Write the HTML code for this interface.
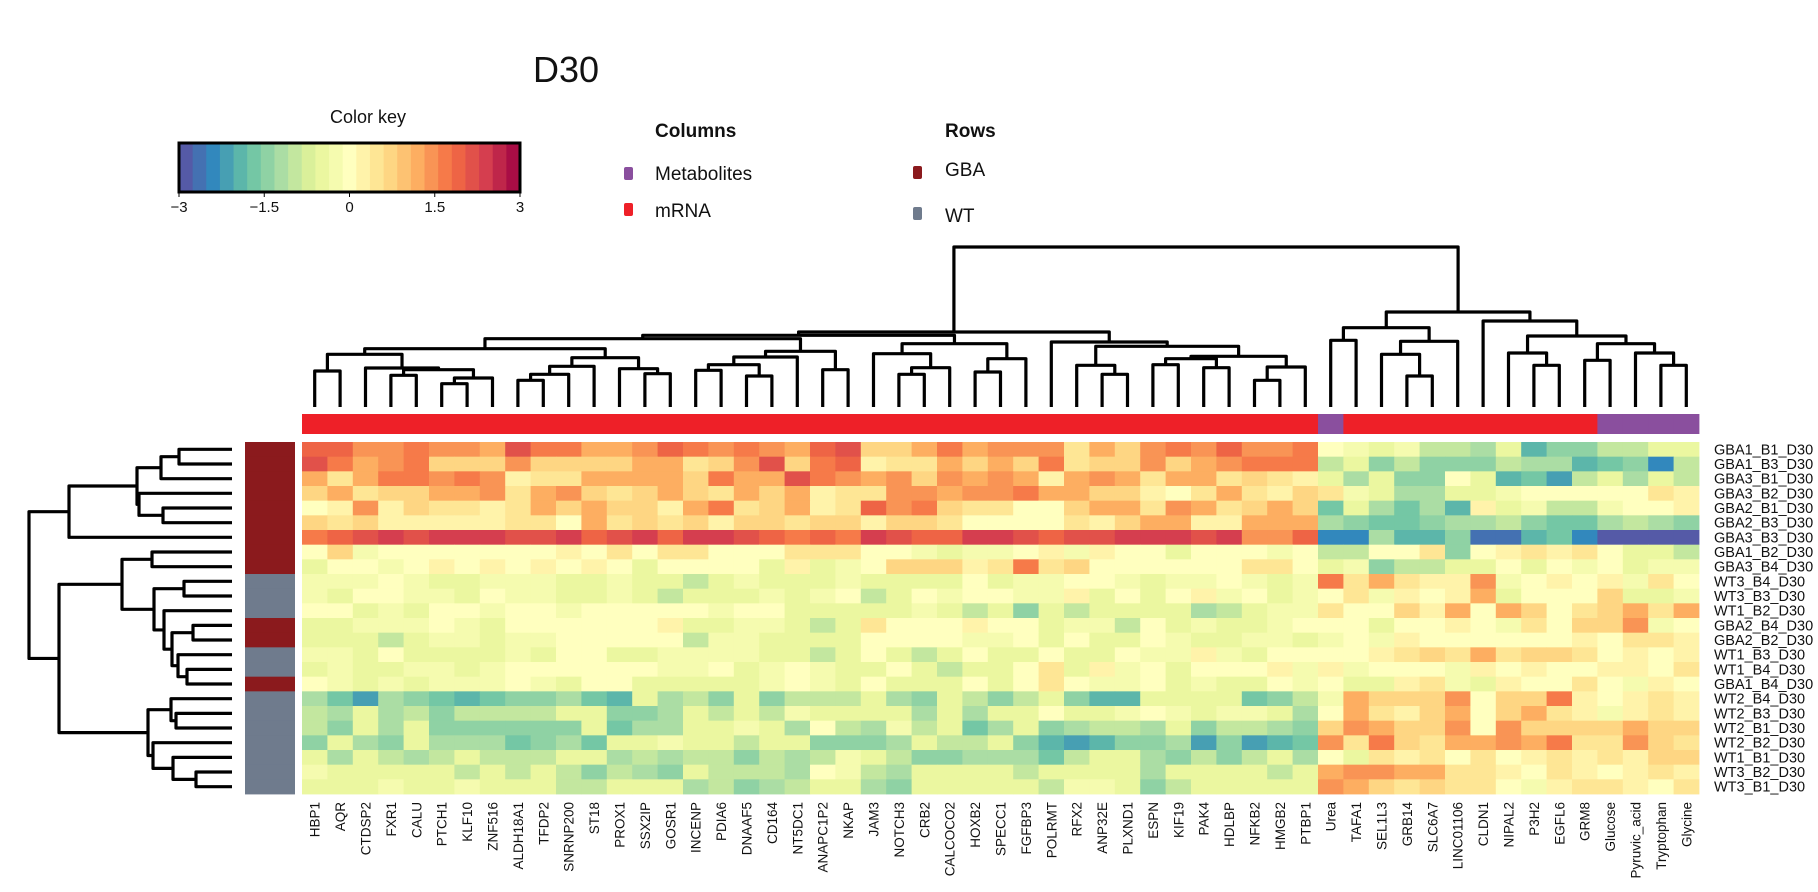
<!DOCTYPE html>
<html><head><meta charset="utf-8"><title>D30 heatmap</title>
<style>
html,body{margin:0;padding:0;background:#fff;}
svg{display:block;font-family:"Liberation Sans",Arial,sans-serif;}
</style></head>
<body>
<svg id="chart" width="1818" height="892" viewBox="0 0 1818 892" xmlns="http://www.w3.org/2000/svg">
<text x="566" y="82" font-size="36" text-anchor="middle" fill="#111">D30</text>
<text x="368" y="123" font-size="18" text-anchor="middle" fill="#111">Color key</text>
<g id="key"></g>
<text x="655" y="137" font-size="19" font-weight="bold" fill="#111">Columns</text>
<rect x="624" y="167" width="9" height="13" rx="2" fill="#8A4F9E"/>
<text x="655" y="180" font-size="19" fill="#111">Metabolites</text>
<rect x="624" y="203" width="9" height="13" rx="2" fill="#EE2028"/>
<text x="655" y="217" font-size="19" fill="#111">mRNA</text>
<text x="945" y="137" font-size="19" font-weight="bold" fill="#111">Rows</text>
<rect x="913" y="166" width="9" height="13" rx="2" fill="#8B1A1D"/>
<text x="945" y="176" font-size="19" fill="#111">GBA</text>
<rect x="913" y="207" width="9" height="13" rx="2" fill="#6F7B8D"/>
<text x="945" y="222" font-size="19" fill="#111">WT</text>
<g id="cells"></g>
<g id="annot"></g>
<g id="dend"></g>
<g id="labels"></g>
</svg>
<script>
const colLabels=["HBP1","AQR","CTDSP2","FXR1","CALU","PTCH1","KLF10","ZNF516","ALDH18A1","TFDP2","SNRNP200","ST18","PROX1","SSX2IP","GOSR1","INCENP","PDIA6","DNAAF5","CD164","NT5DC1","ANAPC1P2","NKAP","JAM3","NOTCH3","CRB2","CALCOCO2","HOXB2","SPECC1","FGFBP3","POLRMT","RFX2","ANP32E","PLXND1","ESPN","KIF19","PAK4","HDLBP","NFKB2","HMGB2","PTBP1","Urea","TAFA1","SEL1L3","GRB14","SLC6A7","LINC01106","CLDN1","NIPAL2","P3H2","EGFL6","GRM8","Glucose","Pyruvic_acid","Tryptophan","Glycine"];
const colTypes=["m","m","m","m","m","m","m","m","m","m","m","m","m","m","m","m","m","m","m","m","m","m","m","m","m","m","m","m","m","m","m","m","m","m","m","m","m","m","m","m","x","m","m","m","m","m","m","m","m","m","m","x","x","x","x"];
const rowLabels=["GBA1_B1_D30","GBA1_B3_D30","GBA3_B1_D30","GBA3_B2_D30","GBA2_B1_D30","GBA2_B3_D30","GBA3_B3_D30","GBA1_B2_D30","GBA3_B4_D30","WT3_B4_D30","WT3_B3_D30","WT1_B2_D30","GBA2_B4_D30","GBA2_B2_D30","WT1_B3_D30","WT1_B4_D30","GBA1_B4_D30","WT2_B4_D30","WT2_B3_D30","WT2_B1_D30","WT2_B2_D30","WT1_B1_D30","WT3_B2_D30","WT3_B1_D30"];
const rowGroups=["GBA","GBA","GBA","GBA","GBA","GBA","GBA","GBA","GBA","WT","WT","WT","GBA","GBA","WT","WT","GBA","WT","WT","WT","WT","WT","WT","WT"];
const keyTicks=[-3,-1.5,0,1.5,3];
const values=[
[1.9,1.9,1.4,1.4,1.7,1.4,1.4,1.1,2.2,1.7,1.7,1.1,1.1,1.4,1.9,1.7,1.4,1.7,1.4,1.1,1.9,2.2,0.8,0.8,1.1,1.7,1.1,1.4,1.4,1.4,0.55,1.1,0.8,1.4,1.7,1.4,1.9,1.4,1.4,1.7,0,-0.2,-0.4,-0.2,-0.85,-0.85,-1.1,-0.4,-1.9,-1.35,-1.35,-0.85,-0.85,-0.4,-0.6],
[2.2,1.7,1.1,1.4,1.7,0.8,0.8,0.8,1.4,0.8,0.8,0.8,0.8,1.1,1.1,0.55,0.8,1.4,2.2,0.8,1.7,1.9,0.3,0.55,0.55,1.1,0.8,1.1,0.8,1.7,0.55,0.8,0.8,1.4,0.8,1.1,1.4,1.7,1.7,1.7,-0.85,-0.4,-1.35,-0.85,-1.35,-1.35,-1.35,-0.85,-1.1,-1.1,-1.9,-1.6,-1.35,-2.3,-0.85],
[1.1,0.55,1.1,1.7,1.7,1.4,1.7,1.4,0.3,0.55,0.55,1.1,1.1,1.1,1.1,0.8,1.7,1.1,1.1,2.2,1.7,1.4,1.1,1.4,0.8,1.4,1.1,1.4,1.1,0.3,1.1,1.4,1.1,0.55,1.1,1.1,0.55,0.8,0.55,0.3,-0.4,-1.1,-0.4,-1.35,-1.35,0,-0.4,-1.9,-1.6,-2.1,-0.85,-0.6,-1.1,-0.4,-0.85],
[0.8,1.1,0.55,0.8,0.8,1.1,1.1,1.4,0.55,1.1,1.4,0.8,0.55,0.8,1.1,0.8,0.55,1.1,0.8,1.1,0.3,0.55,0.55,1.4,1.4,1.1,1.4,1.4,1.7,1.1,1.1,0.8,0.8,0.3,0.1,0.55,1.1,0.55,0.3,0.8,0.55,-0.2,-0.4,-1.1,-1.1,-0.6,-0.4,-0.2,0,0.1,0,0.1,0,0.55,0.3],
[0,0.3,1.4,0.3,0.8,0.55,0.55,0.3,0.55,1.1,0.8,1.1,0.8,0.8,0.3,1.1,1.7,0.55,0.8,1.1,0.3,0.55,1.9,1.4,1.7,0.8,0.55,0.55,0,0,0.8,1.1,1.1,0.55,1.4,1.1,0.55,0.8,1.1,0.8,-1.6,-0.4,-1.1,-1.6,-1.1,-1.9,0.3,-0.6,-0.2,-0.85,-0.85,-0.2,0.1,0.1,0.3],
[0.8,0.55,0.8,0.3,0.3,0.3,0.3,0.3,0.55,0.55,0.1,1.1,0.55,0.8,0.55,0.8,0.3,0.8,0.8,0.55,0.8,0.8,0.3,0.8,0.8,0.55,0.1,0,0,0.1,0.55,0.3,0.8,1.1,1.1,0.3,0.3,1.1,1.1,1.1,-1.1,-1.35,-1.6,-1.6,-1.35,-1.1,-1.1,-0.85,-1.35,-1.6,-1.6,-1.1,-0.85,-1.1,-1.35],
[1.7,1.9,2.2,2.5,2.2,2.5,2.5,2.5,2.2,2.2,2.5,1.9,2.2,2.5,1.9,2.5,2.5,2.2,1.9,1.7,1.9,1.7,2.5,2.2,1.9,1.9,2.5,2.5,2.2,1.9,2.2,2.2,2.5,2.5,2.5,2.2,2.5,1.4,1.4,1.9,-2.3,-2.3,-1.1,-1.9,-1.9,-1.35,-2.6,-2.6,-1.9,-1.6,-2.3,-3,-3,-3,-3],
[0.1,0.8,-0.2,0,0.1,0.1,0.1,0.1,0.1,0,0.3,0.1,0.55,0,0.55,0.55,0.1,0,0.1,0.55,0.55,0.55,0,0,-0.2,-0.6,-0.2,-0.2,0,0.3,-0.2,0.3,0.1,0,-0.4,0,0,0,-0.2,0,-0.85,-0.85,0.1,0.1,0.55,-1.35,0.1,0.3,0.55,0.3,0.55,0,-0.4,-0.6,-0.85],
[-0.4,0,0.1,-0.2,0,0.3,0,0.3,0.1,0.3,0.1,0.3,0,-0.4,0,0,0,0,-0.6,0.3,-0.4,-0.2,0.1,0.8,0.8,0.8,0.3,0.55,1.7,0.55,0.8,0.1,0,0.1,0.1,0,0.1,0.55,0.55,0.1,-0.6,-0.2,-1.35,-0.85,-0.85,-0.4,-0.4,0,-0.6,0,-0.2,0.1,-0.6,-0.2,-0.2],
[-0.2,-0.2,-0.2,0.1,-0.2,-0.4,-0.4,-0.2,-0.2,-0.2,-0.6,-0.4,-0.2,-0.6,-0.4,-0.85,-0.4,-0.2,-0.4,-0.6,-0.6,-0.2,-0.4,-0.6,-0.4,-0.6,0,-0.4,-0.2,-0.2,0,0,-0.2,-0.6,-0.2,-0.2,0.1,-0.2,-0.4,-0.2,1.7,0.55,1.1,0.55,0.3,0.3,1.4,-0.2,0,0.3,0.1,0.3,-0.2,0.55,0.1],
[-0.2,-0.6,0,0,-0.2,-0.2,-0.4,0.1,-0.2,-0.2,-0.6,-0.6,-0.2,-0.6,-0.85,-0.4,-0.4,-0.4,-0.2,-0.6,-0.2,0,-0.85,-0.4,0,-0.2,0,0.1,-0.2,-0.2,0.3,-0.4,0.1,-0.4,0,0.3,-0.2,0,-0.4,-0.2,0.1,0.55,-0.2,0.3,0.1,0.3,1.1,-0.4,0,0,0.1,0.8,-0.6,-0.4,-0.2],
[0.1,0.1,-0.4,-0.2,-0.6,0.1,0,-0.2,0,0,-0.2,0,0.1,0.1,0.1,0,-0.2,0.1,0.1,-0.4,-0.6,-0.6,-0.6,-0.6,-0.2,-0.4,-0.85,-0.4,-1.35,-0.4,-0.85,-0.4,-0.4,-0.6,-0.4,-1.1,-0.85,-0.4,-0.2,-0.2,0.55,0,0.1,0.8,0.3,1.1,0,1.1,0.8,0,0.55,0.8,1.1,0.55,1.1],
[-0.4,-0.4,-0.2,-0.2,-0.2,0,-0.2,-0.4,0,0.1,0,0.1,0.1,0,0.3,-0.4,-0.4,-0.2,-0.2,-0.6,-0.85,-0.6,0.55,0.1,0.1,0.1,0.3,0,0.1,-0.4,-0.2,-0.2,-0.85,0,-0.4,-0.2,-0.4,-0.4,-0.2,0,0,0.1,-0.4,0.1,0.1,0.3,0.1,-0.2,0.55,0.1,0.8,0.8,1.4,-0.2,0],
[-0.6,-0.4,-0.4,-0.85,-0.6,-0.2,-0.2,-0.4,-0.2,-0.2,0,0,0,0.1,0,-0.85,-0.2,-0.2,-0.4,-0.4,-0.4,-0.6,0,0,0.1,0,-0.2,-0.2,0,-0.6,0,-0.4,-0.4,0.1,-0.2,-0.4,-0.6,-0.2,-0.2,-0.4,-0.2,0,-0.2,0.3,0,0,0,0,0,0,0.3,0.1,0.55,0.55,0.3],
[-0.2,-0.2,-0.4,0,-0.6,-0.4,-0.4,-0.4,-0.2,-0.4,0.1,0,-0.4,-0.4,-0.2,-0.2,-0.2,-0.2,-0.4,-0.4,-0.85,-0.4,0.1,-0.4,-0.85,-0.4,0,-0.6,-0.4,0,-0.4,-0.4,0,-0.2,-0.2,0.3,-0.2,-0.4,0,0.1,0,0,0.3,0.55,0.8,0.55,1.1,0.55,0.8,0.8,0.55,0.1,0.3,0,0.3],
[-0.6,-0.2,-0.6,-0.4,-0.2,-0.2,-0.4,-0.2,0.1,0,0.1,0.1,0,0,-0.2,-0.2,0,-0.6,-0.2,0,-0.2,-0.4,-0.4,0,-0.4,-0.85,-0.6,-0.6,0,0.55,-0.4,0.3,-0.2,0.1,-0.4,0.1,0,0.1,0.3,-0.2,0.3,-0.2,0,0.1,0.1,-0.2,0.3,0.1,0.3,0.1,0.1,0.3,0.3,0.1,0.55],
[0.1,-0.2,-0.6,-0.2,-0.4,-0.2,-0.2,-0.2,0,-0.2,-0.4,0,0,-0.4,-0.4,-0.6,-0.6,-0.6,-0.2,0.1,-0.2,-0.6,0,-0.4,-0.6,-0.6,0,-0.6,0,0.55,0.1,-0.2,-0.2,0.1,-0.6,-0.2,-0.4,-0.4,0,-0.2,0.1,-0.6,-0.4,0.3,0.55,-0.2,-0.6,0.3,0.1,0,0.55,0,-0.2,0.3,0],
[-1.1,-1.6,-2.1,-1.1,-1.35,-1.6,-1.9,-1.6,-1.35,-1.35,-1.1,-1.6,-1.9,-0.6,-1.1,-0.85,-1.35,-0.6,-1.35,-0.85,-0.85,-0.85,-0.6,-1.1,-1.35,-0.6,-0.85,-1.35,-0.85,-0.4,-1.35,-1.9,-1.9,-0.4,-0.6,-0.6,-0.4,-1.6,-1.35,-0.85,-0.2,1.1,0.8,0.8,0.8,1.4,0.1,0.8,0.8,1.7,0.3,0,0.3,0.55,0.3],
[-0.85,-1.1,-0.6,-1.1,-0.85,-1.35,-0.85,-0.85,-0.85,-0.85,-0.6,-0.6,-1.35,-1.35,-1.1,-0.6,-0.85,-0.6,-0.85,-0.2,-0.4,-0.6,-0.4,-0.6,-1.1,-0.6,-1.1,-0.4,-0.6,0,-0.6,-0.6,-0.2,0,-0.2,-0.4,-0.2,-0.2,-0.6,-1.1,0,1.1,0.55,0.3,0.8,1.1,0,0.8,1.1,0.55,0.3,-0.2,0.3,0.55,0.3],
[-0.85,-1.35,-0.6,-1.1,-0.6,-1.35,-1.35,-1.35,-1.35,-1.35,-1.35,-0.6,-1.6,-1.1,-1.1,-0.6,-0.6,-0.2,-0.4,-1.1,0.1,-0.85,-1.1,-0.2,-0.85,-0.4,-1.6,-1.1,-0.4,-1.35,-1.1,-0.85,-0.85,-1.1,-0.6,-1.35,-0.85,-0.85,-1.1,-1.35,0.8,1.4,1.1,0.8,0.8,1.4,0,1.4,0.8,0.8,0.8,0.8,1.1,0.8,0.8],
[-1.35,-0.6,-1.1,-1.35,-0.6,-1.1,-1.1,-1.1,-1.6,-1.35,-1.1,-1.6,-0.4,-0.6,-0.2,-0.4,-0.6,-0.85,-0.6,-0.6,-1.35,-1.35,-1.35,-1.1,-0.6,-0.85,-0.85,-0.4,-1.35,-1.9,-2.1,-1.9,-1.35,-1.35,-1.1,-2.1,-1.35,-2.1,-1.9,-1.6,1.4,0.55,1.7,0.8,0.55,1.1,1.1,1.4,1.1,1.7,0.55,0.55,1.4,0.8,0.55],
[-0.6,-1.1,-0.6,-0.85,-1.1,-0.85,-0.4,-0.85,-0.85,-0.85,-0.6,-0.6,-1.1,-0.85,-1.1,-0.85,-0.85,-1.35,-0.85,-1.1,-0.85,-0.2,-0.6,-0.85,-1.35,-1.35,-1.1,-1.1,-1.1,-1.6,-0.85,-0.6,-0.4,-1.1,-1.35,-0.85,-1.35,-0.85,-0.6,-1.1,0,-0.4,0.55,0.3,0.55,0.1,0.55,0,0.3,0.55,0.3,0.55,0.3,0.8,0.8],
[-0.2,-0.4,-0.4,-0.4,-0.6,-0.6,-0.85,-0.4,-0.85,-0.6,-0.85,-1.35,-0.85,-1.1,-1.35,-0.4,-0.85,-0.85,-0.85,-1.1,0,-0.2,-0.85,-1.1,-0.6,-0.6,-0.4,-0.4,-0.85,-0.6,-0.6,-0.6,-0.6,-1.1,-0.6,-0.6,-0.4,-0.6,-0.85,-0.4,1.1,1.4,1.4,1.1,1.1,0.55,0.55,0.3,0.1,0.55,0.3,0,0.3,0.55,0.3],
[-0.6,-0.4,-0.4,-0.2,-0.4,-0.4,-0.2,-0.4,-0.6,-0.6,-0.85,-0.85,-0.6,-0.4,-0.4,-1.1,-0.85,-1.35,-1.1,-0.85,-0.6,-0.6,-1.1,-1.35,-0.6,-0.6,-0.4,-0.6,-0.6,-0.85,-0.2,-0.2,-0.6,-1.35,-0.85,-0.4,-0.6,-0.4,-0.6,-0.6,1.4,1.1,0.8,0.55,0.8,0.55,0.55,0.1,-0.2,0.3,0.55,0.55,0.3,0.1,0.55]
];
// column dendrogram merges: [left, right, height]
const colMerges=[
["L0","L1",36],["L3","L4",31.7],["L5","L6",23.3],["N2","L7",29],["N1","N3",37.3],["L2","N4",39],["N0","N5",52.7],
["L8","L9",26.7],["N7","L10",32.7],["N8","L11",40.7],["L13","L14",33.3],["L12","N10",38.3],["N9","N11",49.3],["N6","N12",58.3],
["L15","L16",36.7],["L17","L18",31],["N14","N15",42.3],["N16","L19",50],["L20","L21",37.3],["N17","N18",55.7],["N13","N19",68.3],
["L23","L24",32.7],["N21","L25",39.3],["L22","N22",53.3],["L26","L27",35],["N24","L28",48.3],["N23","N25",63.3],
["L31","L32",32.7],["L30","N27",41.7],["L33","L34",42.3],["L35","L36",39.3],["L37","L38",26.7],["N31","L39",40],["N29","N30",48.3],["N33","N32",50.7],["N28","N34",60.7],["L29","N35",65],
["N20","N26",71.7],["N37","N36",75],
["L40","L41",66.7],["L43","L44",31],["L42","N40",52.7],["N41","L45",65.7],["N39","N42",79.3],
["L48","L49",41.7],["L47","N44",54],["L50","L51",46.7],["L53","L54",41.7],["L52","N47",54],["N46","N48",63.3],["N45","N49",71],["L46","N50",86],["N43","N51",95],
["N38","N52",160]
];
// row dendrogram merges: [left, right, height]
const rowMerges=[
["L0","L1",53],["N0","L2",71],["L4","L5",69],["L3","N2",93],["N1","N3",95],["N4","L6",163],
["L7","L8",80],["L9","L10",48],["L12","L13",39],["L15","L16",45],["L14","N9",54],["N8","N10",60],["L11","N11",68],["N7","N12",78],["N6","N13",110],
["L18","L19",56],["L17","N15",61],["L22","L23",36],["L21","N17",59],["L20","N18",79],["N16","N19",84],["N14","N20",173],["N5","N21",203]
];

const NS="http://www.w3.org/2000/svg";
const X0=302, CW=25.4, Y0=442, RH=14.667;
const xScale=i=>X0+i*CW;
const yScale=j=>Y0+j*RH;
const spectral=["#5E4FA2","#3288BD","#66C2A5","#ABDDA4","#E6F598","#FFFFBF","#FEE08B","#FDAE61","#F46D43","#D53E4F","#9E0142"];
const NB=25;
function hex(c){return [parseInt(c.slice(1,3),16),parseInt(c.slice(3,5),16),parseInt(c.slice(5,7),16)];}
function interp(t){const p=t*(spectral.length-1);const i=Math.min(Math.floor(p),spectral.length-2);const f=p-i;const a=hex(spectral[i]),b=hex(spectral[i+1]);return "rgb("+a.map((v,k)=>Math.round(v+(b[k]-v)*f)).join(",")+")";}
const bins=[];for(let b=0;b<NB;b++)bins.push(interp((b+0.5)/NB));
function colorOf(v){let b=Math.floor((v+3)/6*NB);b=Math.max(0,Math.min(NB-1,b));return bins[b];}
function mk(tag,attrs,parent){const e=document.createElementNS(NS,tag);for(const k in attrs)e.setAttribute(k,attrs[k]);parent.appendChild(e);return e;}

// color key
const key=document.getElementById('key');
const KX0=179,KX1=520,KY0=143,KY1=192;
for(let b=0;b<NB;b++){
  const r=mk('rect',{x:KX0+b*(KX1-KX0)/NB,y:KY0,width:(KX1-KX0)/NB+0.5,height:KY1-KY0,fill:bins[b]},key);
  
  
}
const kb=mk('rect',{x:KX0,y:KY0,width:KX1-KX0,height:KY1-KY0,fill:'none',stroke:'#000','stroke-width':3},key);


keyTicks.forEach(t=>{
  const x=KX0+(t+3)/6*(KX1-KX0);
  const l=mk('line',{x1:x,x2:x,y1:KY1,y2:KY1+5,stroke:'#000','stroke-width':1},key);
  
  
  const tx=mk('text',{x:x,y:KY1+20,'font-size':15,'text-anchor':'middle',fill:'#111'},key);
  tx.textContent=(t<0?'\u2212'+Math.abs(t):String(t));
  
  
});

// cells
const cells=document.getElementById('cells');
values.forEach((row,j)=>row.forEach((v,i)=>{
  const r=mk('rect',{x:xScale(i),y:yScale(j),width:CW+0.4,height:RH+0.4,fill:colorOf(v)},cells);
  
  
}));

// annotations
const annot=document.getElementById('annot');
colTypes.forEach((t,i)=>{
  const r=mk('rect',{x:xScale(i),y:414,width:CW+0.4,height:20,fill:t==='m'?'#EE2028':'#8A4F9E'},annot);
  
  
});
rowGroups.forEach((g,j)=>{
  const r=mk('rect',{x:245,y:yScale(j),width:50,height:RH+0.4,fill:g==='GBA'?'#8B1A1D':'#6F7B8D'},annot);
  
  
});

// dendrograms
const dend=document.getElementById('dend');
function drawDend(merges,leafPos,hToCoord,horizontal,name){
  const pos=[],hh=[];
  const get=id=>id[0]==='L'?[leafPos(+id.slice(1)),0]:[pos[+id.slice(1)],hh[+id.slice(1)]];
  merges.forEach((m,k)=>{
    const [pa,ha]=get(m[0]),[pb,hb]=get(m[1]);const h=m[2];
    pos[k]=(pa+pb)/2;hh[k]=h;
    let d;
    if(!horizontal){d=`M${pa},${hToCoord(ha)}V${hToCoord(h)}H${pb}V${hToCoord(hb)}`;}
    else{d=`M${hToCoord(ha)},${pa}H${hToCoord(h)}V${pb}H${hToCoord(hb)}`;}
    const p=mk('path',{d:d,fill:'none',stroke:'#000','stroke-width':3.2,'stroke-linejoin':'round'},dend);
    
    
  });
}
drawDend(colMerges,i=>xScale(i)+CW/2,h=>407-h,false,'column-dendrogram-link');
drawDend(rowMerges,j=>yScale(j)+RH/2,h=>232-h,true,'row-dendrogram-link');

// labels
const labels=document.getElementById('labels');
rowLabels.forEach((s,j)=>{
  const t=mk('text',{x:1714,y:yScale(j)+RH/2+5,'font-size':14.5,fill:'#111'},labels);
  t.textContent=s;
  
  
});
colLabels.forEach((s,i)=>{
  const cx=xScale(i)+CW/2+5;
  const t=mk('text',{x:cx,y:802,'font-size':13.5,fill:'#111','text-anchor':'end',transform:`rotate(-90 ${cx} 802)`},labels);
  t.textContent=s;
  
  
});
</script>
</body></html>
